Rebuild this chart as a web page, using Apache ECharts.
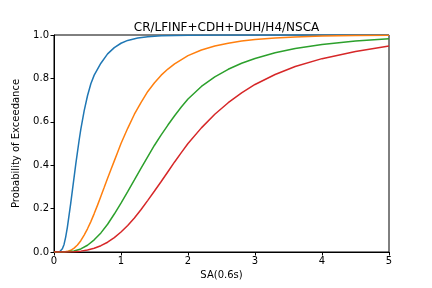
<!DOCTYPE html>
<html>
<head>
<meta charset="utf-8">
<script src="https://cdn.jsdelivr.net/npm/echarts@6/dist/echarts.min.js"></script>
<style>html,body{margin:0;padding:0;background:#fff}#c{width:432px;height:288px}</style>
</head>
<body>
<div id="c"></div>
<script>
const titleText = "CR/LFINF+CDH+DUH/H4/NSCA";
const xLabel = "SA(0.6s)";
const yLabel = "Probability of Exceedance";
const xTicks = [0, 1, 2, 3, 4, 5];
const yTicks = [0.0, 0.2, 0.4, 0.6, 0.8, 1.0];

const blueX = [0, 0.08, 0.1, 0.125, 0.15, 0.175, 0.2, 0.225, 0.25, 0.275, 0.3, 0.325, 0.35, 0.375, 0.4, 0.45, 0.5, 0.55, 0.6, 0.7, 0.8, 0.9, 1.0, 1.1, 1.25, 1.4, 1.6, 1.8, 2.0, 2.5, 5.0];
const blueY = [0, 0, 0.004, 0.015, 0.035, 0.07, 0.115, 0.17, 0.225, 0.285, 0.345, 0.405, 0.46, 0.515, 0.565, 0.65, 0.72, 0.775, 0.815, 0.87, 0.913, 0.942, 0.962, 0.975, 0.986, 0.992, 0.996, 0.998, 0.999, 1.0, 1.0];

const orangeX = [0, 0.15, 0.2, 0.25, 0.3, 0.35, 0.4, 0.45, 0.5, 0.55, 0.6, 0.65, 0.7, 0.75, 0.8, 0.85, 0.9, 0.95, 1.0, 1.1, 1.2, 1.3, 1.4, 1.5, 1.6, 1.7, 1.8, 2.0, 2.2, 2.4, 2.6, 2.8, 3.0, 3.3, 3.6, 4.0, 4.5, 5.0];
const orangeY = [0, 0, 0.003, 0.008, 0.018, 0.032, 0.052, 0.078, 0.107, 0.14, 0.177, 0.216, 0.257, 0.298, 0.34, 0.38, 0.42, 0.46, 0.5, 0.57, 0.635, 0.69, 0.74, 0.78, 0.815, 0.843, 0.867, 0.905, 0.931, 0.949, 0.962, 0.972, 0.979, 0.986, 0.991, 0.995, 0.998, 0.999];

const greenX = [0, 0.2, 0.3, 0.4, 0.5, 0.6, 0.7, 0.8, 0.9, 1.0, 1.1, 1.2, 1.3, 1.4, 1.5, 1.6, 1.7, 1.8, 1.9, 2.0, 2.2, 2.4, 2.6, 2.8, 3.0, 3.3, 3.6, 4.0, 4.5, 5.0];
const greenY = [0, 0.001, 0.005, 0.014, 0.031, 0.056, 0.088, 0.128, 0.175, 0.225, 0.278, 0.332, 0.387, 0.44, 0.492, 0.54, 0.585, 0.628, 0.668, 0.705, 0.763, 0.807, 0.842, 0.87, 0.892, 0.918, 0.938, 0.956, 0.972, 0.983];

const redX = [0, 0.2, 0.3, 0.4, 0.5, 0.6, 0.7, 0.8, 0.9, 1.0, 1.1, 1.2, 1.3, 1.4, 1.5, 1.6, 1.7, 1.8, 1.9, 2.0, 2.2, 2.4, 2.6, 2.8, 3.0, 3.3, 3.6, 4.0, 4.5, 5.0];
const redY = [0, 0, 0.001, 0.004, 0.009, 0.017, 0.029, 0.045, 0.066, 0.092, 0.122, 0.157, 0.196, 0.238, 0.281, 0.325, 0.37, 0.415, 0.458, 0.5, 0.572, 0.635, 0.688, 0.733, 0.772, 0.818, 0.855, 0.891, 0.924, 0.949];

const seriesDefs = [
  {x: blueX, y: blueY, color: '#1f77b4'},
  {x: orangeX, y: orangeY, color: '#ff7f0e'},
  {x: greenX, y: greenY, color: '#2ca02c'},
  {x: redX, y: redY, color: '#d62728'}
];

const chart = echarts.init(document.getElementById('c'), null, {renderer: 'canvas'});
const font = 'DejaVu Sans';
chart.setOption({
  animation: false,
  backgroundColor: '#fff',
  title: {
    text: titleText,
    left: 221.5,
    top: 17,
    textAlign: 'center',
    textStyle: {fontFamily: font, fontSize: 12, fontWeight: 'normal', color: '#000'}
  },
  grid: {left: 54, right: 43, top: 35, bottom: 36, show: true, borderColor: '#000', borderWidth: 1, backgroundColor: 'transparent'},
  xAxis: {
    type: 'value', min: xTicks[0], max: xTicks[xTicks.length - 1], interval: 1,
    name: xLabel, nameLocation: 'middle', nameGap: 18,
    nameTextStyle: {fontFamily: font, fontSize: 10, color: '#000'},
    axisLine: {show: true, lineStyle: {color: '#000', width: 1}},
    axisTick: {show: true, inside: false, length: 3.5, lineStyle: {color: '#000'}},
    axisLabel: {fontFamily: font, fontSize: 10, color: '#000', margin: 4},
    splitLine: {show: false}
  },
  yAxis: {
    type: 'value', min: yTicks[0], max: yTicks[yTicks.length - 1], interval: 0.2,
    name: yLabel, nameLocation: 'middle', nameGap: 33,
    nameTextStyle: {fontFamily: font, fontSize: 10, color: '#000'},
    axisLine: {show: true, lineStyle: {color: '#000', width: 1}},
    axisTick: {show: true, inside: false, length: 3.5, lineStyle: {color: '#000'}},
    axisLabel: {fontFamily: font, fontSize: 10, color: '#000', margin: 5, formatter: v => v.toFixed(1)},
    splitLine: {show: false}
  },
  series: seriesDefs.map(s => ({
    type: 'line',
    data: s.x.map((xv, i) => [xv, s.y[i]]),
    showSymbol: false,
    smooth: false,
    lineStyle: {color: s.color, width: 1.5},
    itemStyle: {color: s.color},
    clip: true
  }))
});
</script>
</body>
</html>
